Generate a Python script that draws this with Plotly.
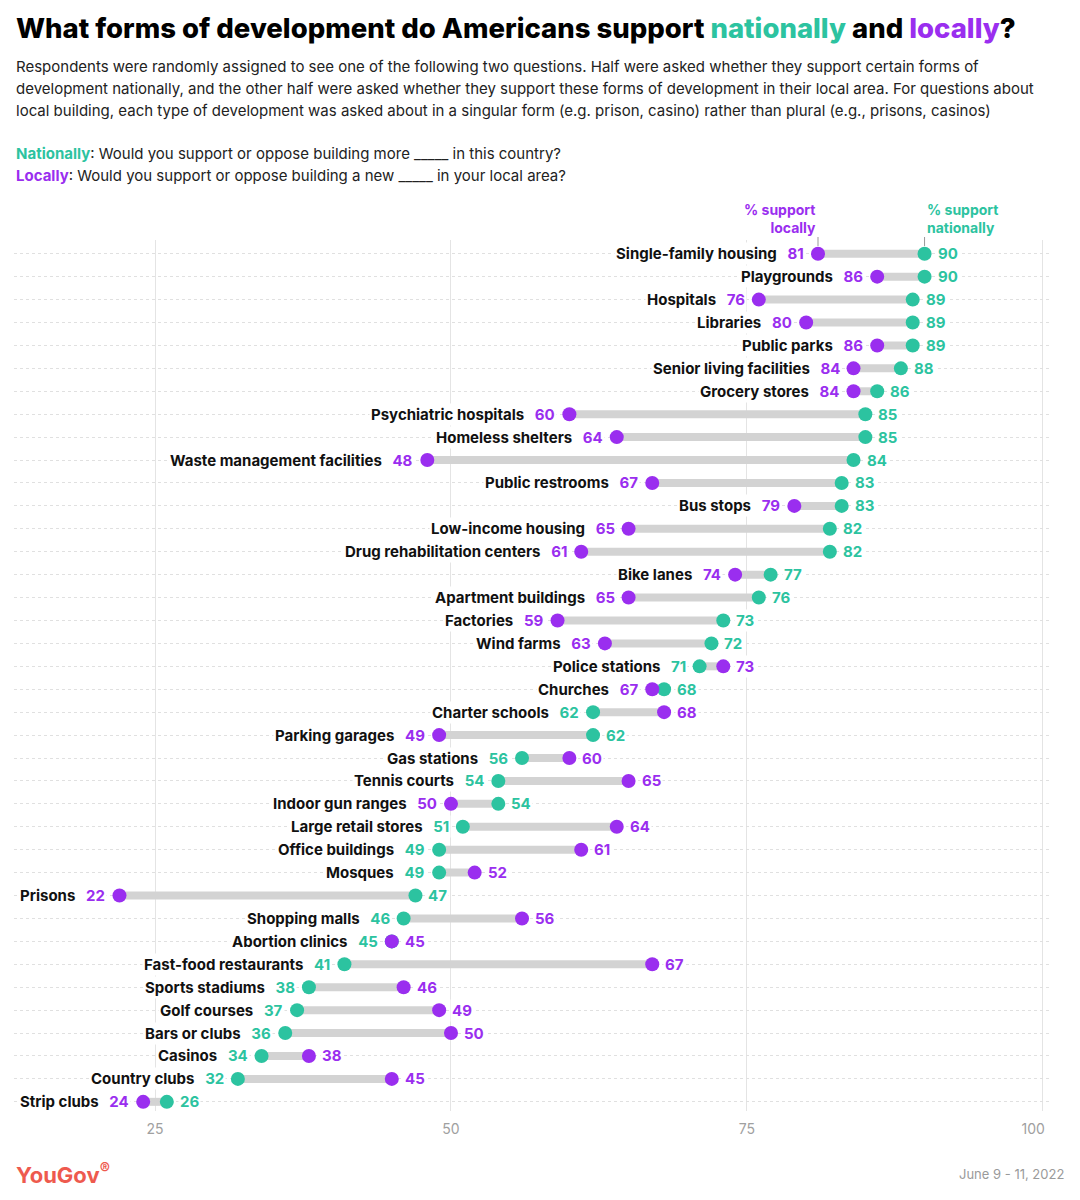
import plotly.graph_objects as go

categories = [
    "Single-family housing", "Playgrounds", "Hospitals", "Libraries", "Public parks",
    "Senior living facilities", "Grocery stores", "Psychiatric hospitals", "Homeless shelters",
    "Waste management facilities", "Public restrooms", "Bus stops", "Low-income housing",
    "Drug rehabilitation centers", "Bike lanes", "Apartment buildings", "Factories", "Wind farms",
    "Police stations", "Churches", "Charter schools", "Parking garages", "Gas stations",
    "Tennis courts", "Indoor gun ranges", "Large retail stores", "Office buildings", "Mosques",
    "Prisons", "Shopping malls", "Abortion clinics", "Fast-food restaurants", "Sports stadiums",
    "Golf courses", "Bars or clubs", "Casinos", "Country clubs", "Strip clubs",
]
national = [90, 90, 89, 89, 89, 88, 86, 85, 85, 84, 83, 83, 82, 82, 77, 76, 73, 72, 71, 68,
            62, 62, 56, 54, 54, 51, 49, 49, 47, 46, 45, 41, 38, 37, 36, 34, 32, 26]
local = [81, 86, 76, 80, 86, 84, 84, 60, 64, 48, 67, 79, 65, 61, 74, 65, 59, 63, 73, 67,
         68, 49, 60, 65, 50, 64, 61, 52, 22, 56, 45, 67, 46, 49, 50, 38, 45, 24]
x_ticks = [25, 50, 75, 100]
x_tick_text = ["25", "50", "75", "100&nbsp;&nbsp;&nbsp;&nbsp;&nbsp;"]

GREEN = "#2CC3A0"
PURPLE = "#9A2EEF"
BAR = "#D3D3D3"
FONT = "Inter"

W, H = 1080, 1200
ML, MR, MT, MB = 14, 29, 240, 89
PH = H - MT - MB
PW = W - ML - MR


def py(p):
    return (H - MB - p) / PH


def px(p):
    return (p - ML) / PW


n = len(categories)
rows = list(range(n))

fig = go.Figure()

bx, by = [], []
for i in rows:
    bx += [national[i], local[i], None]
    by += [i, i, None]
fig.add_trace(go.Scatter(x=bx, y=by, mode="lines", line=dict(color=BAR, width=8),
                         hoverinfo="skip", showlegend=False))
fig.add_trace(go.Scatter(x=national, y=rows, mode="markers",
                         marker=dict(color=GREEN, size=14, line=dict(width=0)),
                         showlegend=False, name="Nationally"))
fig.add_trace(go.Scatter(x=local, y=rows, mode="markers",
                         marker=dict(color=PURPLE, size=14, line=dict(width=0)),
                         showlegend=False, name="Locally"))

ann = []
for i in rows:
    n_v, l_v = national[i], local[i]
    if n_v <= l_v:
        left_v, left_c, right_v, right_c = n_v, GREEN, l_v, PURPLE
    else:
        left_v, left_c, right_v, right_c = l_v, PURPLE, n_v, GREEN
    ann.append(dict(
        x=left_v, y=i, xref="x", yref="y", xanchor="right", yanchor="middle",
        xshift=-12, showarrow=False,
        text=f"{categories[i]}&nbsp;&nbsp;&nbsp;<span style='color:{left_c}'>{left_v}</span>",
        font=dict(family=FONT, size=15, color="#111", weight=700),
        bgcolor="white",
    ))
    ann.append(dict(
        x=right_v, y=i, xref="x", yref="y", xanchor="left", yanchor="middle",
        xshift=11, showarrow=False, text=str(right_v),
        font=dict(family=FONT, size=15, color=right_c, weight=700),
        bgcolor="white",
    ))

# header labels
ann.append(dict(x=local[0], y=py(238), xref="x", yref="paper", xanchor="right", yanchor="bottom",
                showarrow=False, align="right", text="% support<br>locally",
                font=dict(family=FONT, size=14, color=PURPLE, weight=700)))
ann.append(dict(x=national[0], y=py(238), xref="x", yref="paper", xanchor="left", yanchor="bottom",
                showarrow=False, align="left", text="% support<br>nationally",
                font=dict(family=FONT, size=14, color=GREEN, weight=700)))

shapes = []
for xv in (local[0], national[0]):
    shapes.append(dict(type="line", xref="x", yref="paper", x0=xv, x1=xv,
                       y0=py(237), y1=py(246), line=dict(color="#999", width=1)))

# title & text
ann.append(dict(x=0, y=py(28), xref="paper", yref="paper", xanchor="left", yanchor="middle",
                showarrow=False,
                text=("What forms of development do Americans support "
                      f"<span style='color:{GREEN}'>nationally</span> and "
                      f"<span style='color:{PURPLE}'>locally</span>?"),
                font=dict(family=FONT, size=27.5, color="#000", weight=800)))
sub = [
    "Respondents were randomly assigned to see one of the following two questions. Half were asked whether they support certain forms of",
    "development nationally, and the other half were asked whether they support these forms of development in their local area. For questions about",
    "local building, each type of development was asked about in a singular form (e.g. prison, casino) rather than plural (e.g., prisons, casinos)",
]
for k, line in enumerate(sub):
    ann.append(dict(x=0, y=py(66 + 22 * k), xref="paper", yref="paper", xanchor="left",
                    yanchor="middle", showarrow=False, text=line,
                    font=dict(family=FONT, size=15, color="#222")))
ann.append(dict(x=0, y=py(153), xref="paper", yref="paper", xanchor="left", yanchor="middle",
                showarrow=False,
                text=f"<span style='color:{GREEN}'><b>Nationally</b></span>: Would you support or oppose building more _____ in this country?",
                font=dict(family=FONT, size=15, color="#222")))
ann.append(dict(x=0, y=py(175), xref="paper", yref="paper", xanchor="left", yanchor="middle",
                showarrow=False,
                text=f"<span style='color:{PURPLE}'><b>Locally</b></span>: Would you support or oppose building a new _____ in your local area?",
                font=dict(family=FONT, size=15, color="#222")))

# footer
ann.append(dict(x=0, y=py(1173), xref="paper", yref="paper", xanchor="left", yanchor="middle",
                showarrow=False, text="YouGov<sup>®</sup>",
                font=dict(family=FONT, size=22, color="#EE5A4E", weight=700)))
ann.append(dict(x=px(1066), y=py(1174), xref="paper", yref="paper", xanchor="right",
                yanchor="middle", showarrow=False, text="June 9 - 11, 2022",
                font=dict(family=FONT, size=13, color="#9a9a9a")))

fig.update_layout(
    width=W, height=H,
    margin=dict(l=ML, r=MR, t=MT, b=MB),
    paper_bgcolor="white", plot_bgcolor="white",
    annotations=ann, shapes=shapes,
    xaxis=dict(range=[13.09, 100.68], tickvals=x_ticks, ticktext=x_tick_text,
               showgrid=True, gridcolor="#E4E4E4", gridwidth=1, zeroline=False,
               showline=False, ticks="", tickfont=dict(family=FONT, size=14, color="#A0A0A0"),
               ticklabelstandoff=8, fixedrange=True),
    yaxis=dict(range=[n - 0.6, -0.6], tickvals=rows, showticklabels=False, showgrid=True,
               gridcolor="#E0E0E0", griddash="dot", gridwidth=1, zeroline=False,
               showline=False, ticks="", fixedrange=True),
    showlegend=False,
)

fig.write_html("out.html", config={"displayModeBar": False},
               post_script="document.body.style.margin='0';")
